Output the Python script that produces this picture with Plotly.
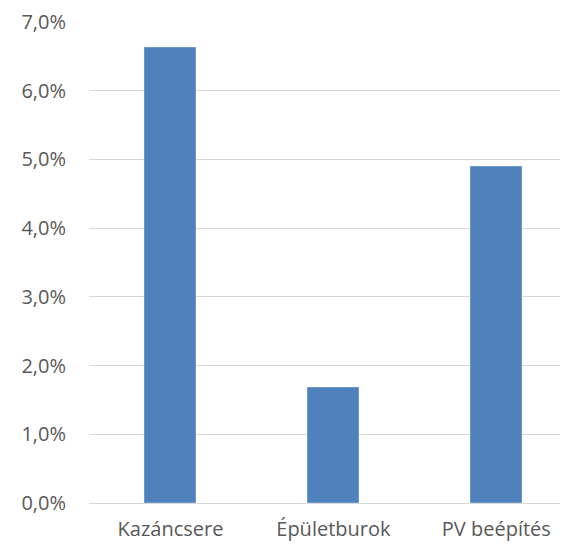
import plotly.graph_objects as go

categories = ["Kazáncsere", "Épületburok", "PV beépítés"]
values_pct = [6.62, 1.68, 4.89]
tick_vals = [0, 1, 2, 3, 4, 5, 6, 7]
tick_text = ["0,0%", "1,0%", "2,0%", "3,0%", "4,0%", "5,0%", "6,0%", "7,0%"]

fig = go.Figure(go.Bar(
    x=categories, y=values_pct,
    marker=dict(color="#4F81BD", line=dict(color="#6E98CC", width=1)),
    width=0.31,
))

font = dict(family="Open Sans, Liberation Sans, sans-serif", size=20, color="#595959")

fig.update_layout(
    width=560, height=539,
    margin=dict(l=81, r=0, t=10, b=44),
    plot_bgcolor="white", paper_bgcolor="white",
    showlegend=False,
    font=font,
    bargap=0,
)
fig.update_xaxes(
    range=[-0.5, 2.44],
    showgrid=False, showline=False, zeroline=False,
    ticks="", tickfont=font, ticklabelstandoff=12,
    ticklabeloverflow="allow",
)
fig.update_yaxes(
    range=[0, 7.001],
    tickvals=tick_vals, ticktext=tick_text,
    showgrid=True, gridcolor="#D9D9D9", gridwidth=1,
    zeroline=True, zerolinecolor="#D9D9D9", zerolinewidth=1,
    showline=False, ticks="", tickfont=font, ticklabelstandoff=22,
    ticklabeloverflow="allow",
)

fig.write_html("out.html")
